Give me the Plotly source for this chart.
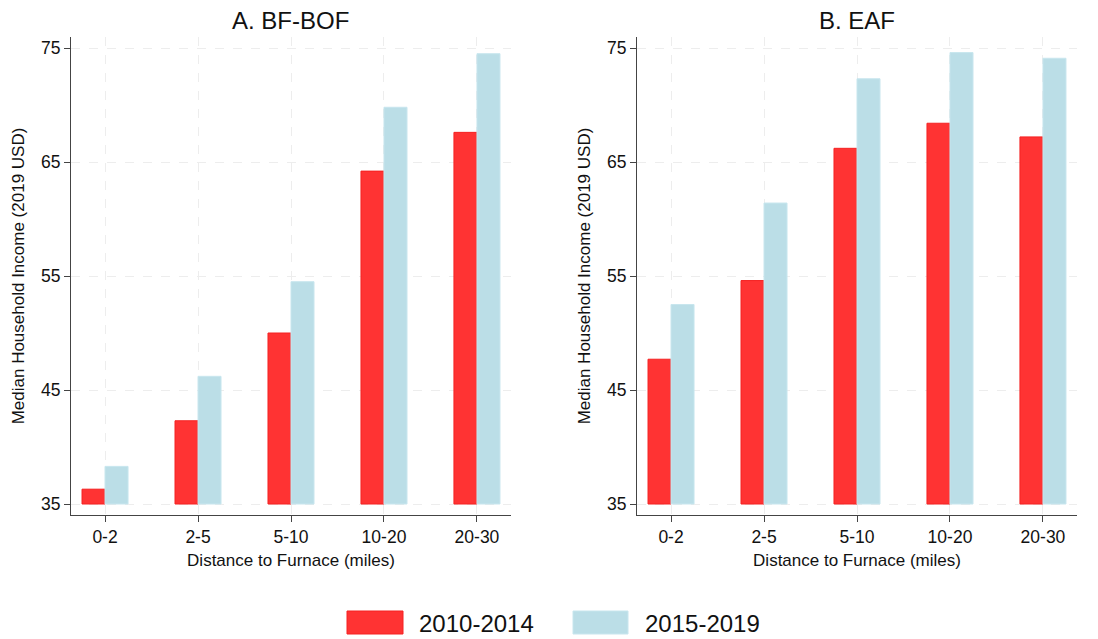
import plotly.graph_objects as go

categories = ["0-2", "2-5", "5-10", "10-20", "20-30"]
bfbof_2010_2014 = [36.3, 42.3, 50.0, 64.2, 67.6]
bfbof_2015_2019 = [38.3, 46.2, 54.5, 69.8, 74.5]
eaf_2010_2014 = [47.7, 54.6, 66.2, 68.4, 67.2]
eaf_2015_2019 = [52.5, 61.4, 72.3, 74.6, 74.1]
series_names = ["2010-2014", "2015-2019"]
panel_titles = ["A. BF-BOF", "B. EAF"]
y_ticks = [35, 45, 55, 65, 75]
BASE = 35

RED = "#FF3333"
RED_LINE = "#F52222"
BLUE = "#BBDEE7"
BLUE_LINE = "#C8E6EE"
FONT = "Liberation Sans, Arial, Helvetica, sans-serif"

W, H = 1098, 639
fig = go.Figure()

panels = [(bfbof_2010_2014, bfbof_2015_2019, "x", "y"),
          (eaf_2010_2014, eaf_2015_2019, "x2", "y2")]
for (a, b, xa, ya) in panels:
    for vals, name, col, lc in [(a, series_names[0], RED, RED_LINE),
                                (b, series_names[1], BLUE, BLUE_LINE)]:
        fig.add_trace(go.Bar(
            x=list(range(len(categories))), y=[v - BASE for v in vals], base=BASE,
            name=name, marker=dict(color=col, line=dict(color=lc, width=1)),
            xaxis=xa, yaxis=ya, showlegend=False,
            customdata=vals, hovertemplate="%{customdata}<extra>" + name + "</extra>"))

def px_x(p):
    return p / W

def px_y(p):
    return 1 - p / H

y_bot, y_top = 515, 37
xdoms = [(px_x(71), px_x(511)), (px_x(637), px_x(1077))]

axis_common = dict(showline=True, linecolor="#444444", linewidth=1,
                   ticks="outside", tickcolor="#444444", ticklen=6,
                   tickfont=dict(size=17.5, color="#111111", family=FONT),
                   showgrid=True, gridcolor="#EDEDED", griddash="dash", gridwidth=1,
                   zeroline=False, mirror=False)

for i, (xd) in enumerate(xdoms):
    sx = "" if i == 0 else str(i + 1)
    fig.layout["xaxis" + sx] = dict(
        axis_common, domain=list(xd), anchor="y" + sx,
        range=[-0.366, 4.366], tickmode="array",
        tickvals=list(range(len(categories))), ticktext=categories,
        title=dict(text="Distance to Furnace (miles)", standoff=8,
                   font=dict(size=17, color="#111111", family=FONT)))
    fig.layout["yaxis" + sx] = dict(
        axis_common, domain=[px_y(y_bot), px_y(y_top)], anchor="x" + sx,
        range=[34.035, 75.965], tickmode="array", tickvals=y_ticks,
        title=dict(text="Median Household Income (2019 USD)", standoff=12,
                   font=dict(size=17, color="#111111", family=FONT)))
    fig.add_annotation(text=panel_titles[i], xref="paper", yref="paper",
                       x=(xd[0] + xd[1]) / 2, y=px_y(20), xanchor="center", yanchor="middle",
                       showarrow=False, font=dict(size=24, color="#111111", family=FONT))

# custom legend
leg = [(347, 403, 417, RED, RED_LINE, series_names[0]),
       (573, 628, 643, BLUE, BLUE_LINE, series_names[1])]
for x0, x1, tx, col, lc, name in leg:
    fig.add_shape(type="rect", xref="paper", yref="paper",
                  x0=px_x(x0), x1=px_x(x1), y0=px_y(634), y1=px_y(611),
                  fillcolor=col, line=dict(color=lc, width=1))
    fig.add_annotation(text=name, xref="paper", yref="paper", x=px_x(tx), y=px_y(623),
                       xanchor="left", yanchor="middle", showarrow=False,
                       font=dict(size=24, color="#111111", family=FONT))

fig.update_layout(width=W, height=H, margin=dict(l=0, r=0, t=0, b=0),
                  paper_bgcolor="white", plot_bgcolor="white",
                  barmode="group", bargap=0.505, bargroupgap=0,
                  font=dict(family=FONT), showlegend=False)

fig.write_html("out.html", config={"displayModeBar": False},
               post_script="document.body.style.margin='0';document.body.style.overflow='hidden';")
